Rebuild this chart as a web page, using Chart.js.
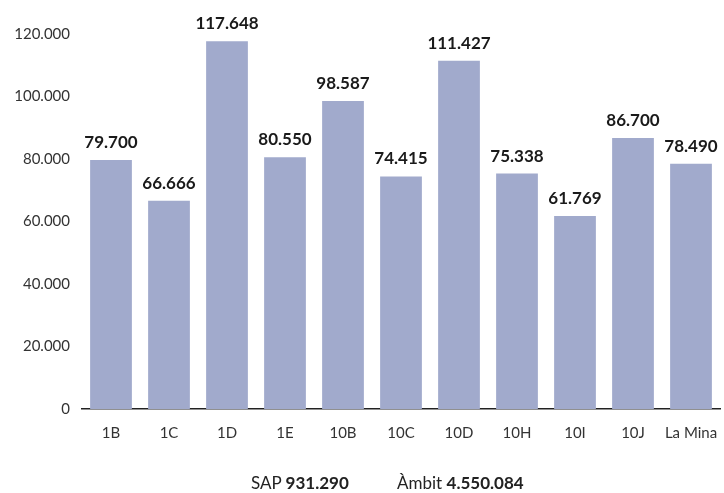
<!DOCTYPE html>
<html>
<head>
<meta charset="utf-8">
<script src="https://cdn.jsdelivr.net/npm/chart.js@4"></script>
<style>
  html, body { margin: 0; padding: 0; background: #fff; }
  #wrap { position: relative; width: 724px; height: 493px; }
  #footer { position: absolute; top: 472px; left: 0; width: 724px; font-family: Lato, 'Open Sans', sans-serif; font-size: 17px; color: #222; }
  #footer span { position: absolute; white-space: nowrap; }
  #footer b { font-weight: 700; }
</style>
</head>
<body>
<div id="wrap">
  <canvas id="chart" width="724" height="493"></canvas>
  <div id="footer">
    <span style="left:251px">SAP <b>931.290</b></span>
    <span style="left:397px">Àmbit <b>4.550.084</b></span>
  </div>
</div>
<script>
const categories = ['1B', '1C', '1D', '1E', '10B', '10C', '10D', '10H', '10I', '10J', 'La Mina'];
const values = [79700, 66666, 117648, 80550, 98587, 74415, 111427, 75338, 61769, 86700, 78490];
const yTicks = [0, 20000, 40000, 60000, 80000, 100000, 120000];

const fmt = v => String(v).replace(/\B(?=(\d{3})+(?!\d))/g, '.');

const valueLabels = {
  id: 'valueLabels',
  afterDatasetsDraw(chart) {
    const ctx = chart.ctx;
    const meta = chart.getDatasetMeta(0);
    ctx.save();
    ctx.font = 'bold 17px Lato, "Open Sans", sans-serif';
    ctx.fillStyle = '#1a1a1a';
    ctx.textAlign = 'center';
    ctx.textBaseline = 'bottom';
    meta.data.forEach((bar, i) => {
      ctx.fillText(fmt(values[i]), bar.x, bar.y - 9);
    });
    ctx.restore();
  }
};

new Chart(document.getElementById('chart').getContext('2d'), {
  type: 'bar',
  data: {
    labels: categories,
    datasets: [{ data: values, backgroundColor: '#a1aacc', barPercentage: 0.72, categoryPercentage: 1 }],
  },
  options: {
    responsive: false,
    animation: false,
    layout: { padding: { top: 34, right: 4, left: 0, bottom: 0 } },
    plugins: { legend: { display: false }, tooltip: { enabled: false } },
    scales: {
      x: {
        grid: { display: false, drawTicks: false },
        border: { display: true, color: '#222', width: 1.5 },
        ticks: { color: '#333', padding: 15, maxRotation: 0, minRotation: 0, autoSkip: false, font: { family: 'Lato, "Open Sans", sans-serif', size: 15 } },
        afterFit: s => { s.height = 84; s.paddingLeft = 0; s.paddingRight = 0; },
      },
      y: {
        min: 0, max: 120000,
        grid: { display: false, drawTicks: false },
        border: { display: false },
        afterBuildTicks: s => { s.ticks = yTicks.map(v => ({ value: v })); },
        ticks: { color: '#333', padding: 12, callback: v => fmt(v), font: { family: 'Lato, "Open Sans", sans-serif', size: 15 } },
        afterFit: s => { s.width = 82; s.paddingTop = 0; s.paddingBottom = 0; },
      },
    },
  },
  plugins: [valueLabels],
});
</script>
</body>
</html>
